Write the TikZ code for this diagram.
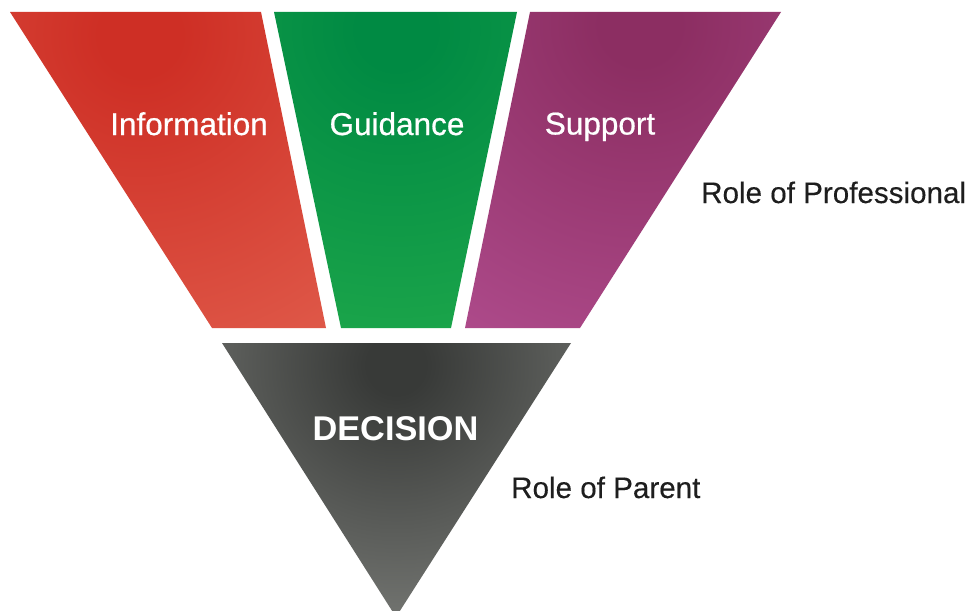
\documentclass[tikz,border=0pt]{standalone}
\usepackage{fontspec}
\setmainfont{Liberation Sans}
\newfontfamily\medfont[FakeBold=0.6]{Liberation Sans}
\newfontfamily\rolefont[FakeBold=0.25]{Liberation Sans}
\definecolor{redA}{HTML}{CE2F25}
\definecolor{redB}{HTML}{E2604F}
\definecolor{grnA}{HTML}{008A43}
\definecolor{grnB}{HTML}{22AC4C}
\definecolor{purA}{HTML}{8C2E62}
\definecolor{purB}{HTML}{B24E90}
\definecolor{drkA}{HTML}{383A38}
\definecolor{drkB}{HTML}{7C7E7A}
\definecolor{lbl}{HTML}{1E1E1E}
\pgfdeclareradialshading{redsh}{\pgfpoint{0bp}{0bp}}{color(0bp)=(redA); color(2bp)=(redA); color(20bp)=(redB); color(50bp)=(redB)}
\pgfdeclareradialshading{grnsh}{\pgfpoint{0bp}{0bp}}{color(0bp)=(grnA); color(2bp)=(grnA); color(20bp)=(grnB); color(50bp)=(grnB)}
\pgfdeclareradialshading{pursh}{\pgfpoint{0bp}{0bp}}{color(0bp)=(purA); color(2bp)=(purA); color(20bp)=(purB); color(50bp)=(purB)}
\pgfdeclareradialshading{drksh}{\pgfpoint{0bp}{0bp}}{color(0bp)=(drkA); color(2bp)=(drkA); color(20bp)=(drkB); color(50bp)=(drkB)}
\tikzset{
  seglabel/.style={text=white, font=\medfont\fontsize{31.5}{38}\selectfont, inner sep=0pt, anchor=base},
  declabel/.style={text=white, font=\fontsize{34.3}{40}\selectfont\bfseries, inner sep=0pt, anchor=base},
  rolelabel/.style={text=lbl, font=\rolefont\fontsize{29.6}{34}\selectfont, inner sep=0pt, anchor=base west}
}
\begin{document}
\begin{tikzpicture}[x=1pt,y=-1pt]
\fill[white] (0,0) rectangle (976,610);
\useasboundingbox (0,0) rectangle (976,610);
% red
\begin{scope}
\clip (10,12) -- (261,12) -- (326,328) -- (212,328) -- cycle;
\shade[shading=redsh] (140,35) circle (510);
\end{scope}
% green
\begin{scope}
\clip (274,12) -- (517,12) -- (451,328) -- (341,328) -- cycle;
\shade[shading=grnsh] (396,30) circle (480);
\end{scope}
% purple
\begin{scope}
\clip (530,12) -- (781,12) -- (580,328) -- (465,328) -- cycle;
\shade[shading=pursh] (640,25) circle (495);
\end{scope}
% dark
\begin{scope}
\clip (222,343) -- (571,343) -- (396,617) -- cycle;
\shade[shading=drksh] (396,365) circle (368);
\end{scope}
\node[seglabel] (info) at (189,135) {Information};
\node[seglabel] (guid) at (397,135) {Guidance};
\node[seglabel] (supp) at (600,134.5) {Support};
\node[declabel] (dec) at (395.5,440) {DECISION};
\node[rolelabel] (prof) at (701,203) {Role of Professional};
\node[rolelabel] (par) at (511,498) {Role of Parent};
\end{tikzpicture}
\end{document}
